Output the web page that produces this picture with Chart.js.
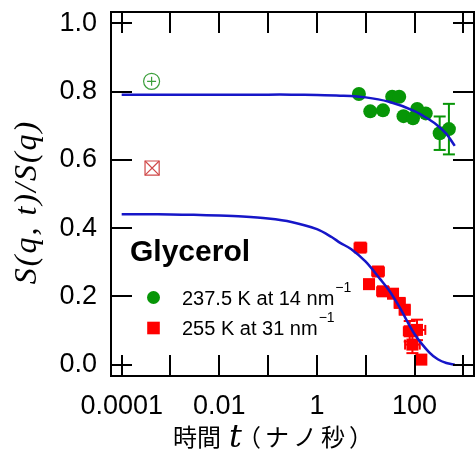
<!DOCTYPE html>
<html><head><meta charset="utf-8">
<script src="https://cdn.jsdelivr.net/npm/chart.js@4.4.0/dist/chart.umd.min.js"></script>
<style>html,body{margin:0;padding:0;background:#fff;overflow:hidden;width:475px;height:452px;} canvas{display:block;}</style>
</head><body><canvas id="c" width="475" height="452" style="width:475px;height:452px"></canvas>
<script>
// ---- data ----
const xTickValues = [1e-4, 1e-3, 1e-2, 1e-1, 1, 10, 100, 1000];
const xTickLabels = ['0.0001', '', '0.01', '', '1', '', '100', ''];
const yTickValues = [0, 0.2, 0.4, 0.6, 0.8, 1.0];
const yTickLabels = ['0.0', '0.2', '0.4', '0.6', '0.8', '1.0'];

// 237.5 K at 14 nm^-1 (green circles)
const greenT = [7.26, 12.4, 22.6, 34.9, 48.6, 59.5, 93.1, 113.6, 170, 328, 507];
const greenS = [0.793, 0.742, 0.745, 0.785, 0.785, 0.728, 0.722, 0.749, 0.736, 0.678, 0.690];
const greenErr = [0, 0, 0, 0, 0, 0, 0, 0, 0, 0.049, 0.074];

// 255 K at 31 nm^-1 (red squares)
const redT = [7.79, 17.9, 11.7, 22.6, 36.3, 49.7, 63, 79.7, 112.5, 90.6, 138];
const redS = [0.343, 0.273, 0.236, 0.215, 0.208, 0.181, 0.161, 0.098, 0.102, 0.059, 0.015];
const redXErrDex = [0.12, 0.12, 0.10, 0.12, 0.10, 0.10, 0.10, 0.12, 0.17, 0.15, 0.08];
const redYErr = [0, 0, 0, 0, 0, 0, 0, 0.03, 0.03, 0.025, 0];

// open reference markers near t = 4e-4
const openGreenT = [4.1e-4];
const openGreenS = [0.830];
const openRedT = [4.2e-4];
const openRedS = [0.576];

// fitted curves
const greenFitT = [1e-4, 3e-4, 1e-3, 3e-3, 0.01, 0.03, 0.1, 0.3, 1, 3, 10, 30, 100, 200, 300, 450, 667];
const greenFitS = [0.791, 0.791, 0.791, 0.791, 0.791, 0.791, 0.791, 0.791, 0.790, 0.788, 0.783, 0.770, 0.743, 0.718, 0.700, 0.676, 0.641];
const redFitT = [1e-4, 3e-4, 1e-3, 3e-3, 0.01, 0.03, 0.1, 0.3, 1, 2, 3, 5, 10, 20, 30, 50, 100, 200, 300, 450, 667];
const redFitS = [0.441, 0.441, 0.440, 0.439, 0.437, 0.434, 0.428, 0.418, 0.397, 0.374, 0.357, 0.339, 0.302, 0.250, 0.218, 0.167, 0.090, 0.036, 0.016, 0.005, 0.0];

const GREEN = '#079607';
const RED = '#ff0000';
const BLUE = '#1616c8';

const toXY = (xs, ys) => xs.map((x, i) => ({x: x, y: ys[i]}));

function line(ctx, x1, y1, x2, y2) { ctx.beginPath(); ctx.moveTo(x1, y1); ctx.lineTo(x2, y2); ctx.stroke(); }

const errorBarPlugin = {
  id: 'errbars',
  beforeDatasetsDraw(chart) {
    const ctx = chart.ctx, xs = chart.scales.x, ys = chart.scales.y;
    ctx.save();
    ctx.lineWidth = 2;
    ctx.strokeStyle = GREEN;
    greenT.forEach((t, i) => {
      const e = greenErr[i]; if (!e) return;
      const px = xs.getPixelForValue(t);
      const y1 = ys.getPixelForValue(greenS[i] - e), y2 = ys.getPixelForValue(greenS[i] + e);
      line(ctx, px, y1, px, y2);
      line(ctx, px - 6, y1, px + 6, y1);
      line(ctx, px - 6, y2, px + 6, y2);
    });
    ctx.strokeStyle = RED;
    redT.forEach((t, i) => {
      const d = redXErrDex[i];
      const py = ys.getPixelForValue(redS[i]);
      const x1 = xs.getPixelForValue(t / Math.pow(10, d)), x2 = xs.getPixelForValue(t * Math.pow(10, d));
      line(ctx, x1, py, x2, py);
      line(ctx, x1, py - 5, x1, py + 5);
      line(ctx, x2, py - 5, x2, py + 5);
      const e = redYErr[i];
      if (e) {
        const px = xs.getPixelForValue(t);
        const y1 = ys.getPixelForValue(redS[i] - e), y2 = ys.getPixelForValue(redS[i] + e);
        line(ctx, px, y1, px, y2);
        line(ctx, px - 6, y1, px + 6, y1);
        line(ctx, px - 6, y2, px + 6, y2);
      }
    });
    ctx.restore();
  }
};

const framePlugin = {
  id: 'frame',
  afterDraw(chart) {
    const ctx = chart.ctx, xs = chart.scales.x, ys = chart.scales.y;
    const {left, right, top, bottom} = chart.chartArea;
    const TL = 21;
    ctx.save();
    ctx.strokeStyle = '#000';
    ctx.lineWidth = 2;
    ctx.strokeRect(left, top, right - left, bottom - top);
    xTickValues.forEach(v => {
      const px = Math.round(xs.getPixelForValue(v));
      line(ctx, px, bottom, px, bottom - TL);
      line(ctx, px, top, px, top + TL);
    });
    yTickValues.forEach(v => {
      const py = Math.round(ys.getPixelForValue(v));
      line(ctx, left, py, left + TL, py);
      line(ctx, right, py, right - TL, py);
    });

    // y axis title
    ctx.save();
    ctx.translate(28, 202);
    ctx.rotate(-Math.PI / 2);
    ctx.fillStyle = '#000';
    ctx.font = 'italic 32px "Liberation Serif"';
    ctx.letterSpacing = '2px';
    ctx.textAlign = 'center';
    ctx.textBaseline = 'middle';
    ctx.fillText('S(q, t)/S(q)', 0, 0);
    ctx.restore();

    // x axis title: 時間 t（ナノ秒）
    ctx.fillStyle = '#000';
    ctx.textBaseline = 'alphabetic';
    ctx.textAlign = 'left';
    const base = 446;
    ctx.font = '24px "Noto Sans CJK JP"';
    ctx.fillText('時間', 173, base);
    ctx.font = 'italic 32px "DejaVu Serif"';
    ctx.fillText('t', 229, base + 1);
    ctx.save();
    ctx.font = '24px "Noto Sans CJK JP"';
    ctx.letterSpacing = '4px';
    ctx.fillText('（ナノ秒）', 237, base);
    ctx.restore();

    // legend
    ctx.fillStyle = '#000';
    ctx.textBaseline = 'alphabetic';
    ctx.font = 'bold 30px "Liberation Sans"';
    ctx.fillText('Glycerol', 130, 261);
    const items = [
      {txt: '237.5 K at 14 nm', y: 298, style: 'circle', color: GREEN},
      {txt: '255 K at 31 nm', y: 328, style: 'rect', color: RED}
    ];
    items.forEach(it => {
      ctx.fillStyle = it.color;
      if (it.style === 'circle') {
        ctx.beginPath(); ctx.arc(153.5, it.y - 0.5, 6.5, 0, Math.PI * 2); ctx.fill();
      } else {
        ctx.fillRect(147.2, it.y - 6.3, 12.6, 12.6);
      }
      ctx.fillStyle = '#000';
      ctx.font = '20px "Liberation Sans"';
      ctx.textBaseline = 'middle';
      ctx.fillText(it.txt, 182, it.y + 1);
      const w = ctx.measureText(it.txt).width;
      ctx.font = '14px "Liberation Sans"';
      ctx.fillText('\u22121', 182 + w + 1, it.y - 10);
    });
    ctx.restore();
  }
};

new Chart(document.getElementById('c'), {
  type: 'scatter',
  data: {
    datasets: [
      {label: 'fit green', type: 'line', data: toXY(greenFitT, greenFitS), borderColor: BLUE, borderWidth: 2.5,
       pointRadius: 0, fill: false, tension: 0.3, order: 0},
      {label: 'fit red', type: 'line', data: toXY(redFitT, redFitS), borderColor: BLUE, borderWidth: 2.5,
       pointRadius: 0, fill: false, tension: 0.3, order: 0},
      {label: '237.5 K at 14 nm-1', data: toXY(greenT, greenS), pointStyle: 'circle', pointRadius: 7,
       backgroundColor: GREEN, borderColor: GREEN, borderWidth: 0, order: 1},
      {label: '255 K at 31 nm-1', data: toXY(redT, redS), pointStyle: 'rect', pointRadius: 8.5,
       backgroundColor: RED, borderColor: RED, borderWidth: 0, order: 1},
      {label: 'ref green circle', data: toXY(openGreenT, openGreenS), pointStyle: 'circle', pointRadius: 8,
       backgroundColor: 'rgba(0,0,0,0)', borderColor: '#3c9f3c', borderWidth: 1.2, order: 2},
      {label: 'ref green plus', data: toXY(openGreenT, openGreenS), pointStyle: 'cross', pointRadius: 4.5,
       borderColor: '#3c9f3c', borderWidth: 1.2, order: 2},
      {label: 'ref red square', data: toXY(openRedT, openRedS), pointStyle: 'rect', pointRadius: 10,
       backgroundColor: 'rgba(0,0,0,0)', borderColor: '#d04848', borderWidth: 1.2, order: 2},
      {label: 'ref red x', data: toXY(openRedT, openRedS), pointStyle: 'crossRot', pointRadius: 10,
       borderColor: '#d04848', borderWidth: 1.2, order: 2}
    ]
  },
  options: {
    responsive: false, animation: false, devicePixelRatio: 1,
    layout: {autoPadding: false, padding: {top: 12, right: 1, left: 0, bottom: 0}},
    plugins: {legend: {display: false}, tooltip: {enabled: false}},
    scales: {
      x: {
        type: 'logarithmic', min: 6.04e-5, max: 1656,
        afterBuildTicks: s => { s.ticks = xTickValues.map(v => ({value: v})); },
        afterFit: s => { s.height = 76; s.paddingLeft = 0; s.paddingRight = 0; },
        ticks: {callback: (v, i) => xTickLabels[i], color: '#000', font: {family: '"Liberation Sans"', size: 27},
                padding: 14, maxRotation: 0, minRotation: 0, autoSkip: false},
        grid: {display: false, drawTicks: false},
        border: {display: false}
      },
      y: {
        type: 'linear', min: -0.033, max: 1.033,
        afterBuildTicks: s => { s.ticks = yTickValues.map(v => ({value: v})); },
        afterFit: s => { s.width = 111; s.paddingTop = 0; s.paddingBottom = 0; },
        ticks: {callback: (v, i) => yTickLabels[i], color: '#000', font: {family: '"Liberation Sans"', size: 27},
                padding: 14},
        grid: {display: false, drawTicks: false},
        border: {display: false}
      }
    }
  },
  plugins: [errorBarPlugin, framePlugin]
});
</script>
</body></html>
